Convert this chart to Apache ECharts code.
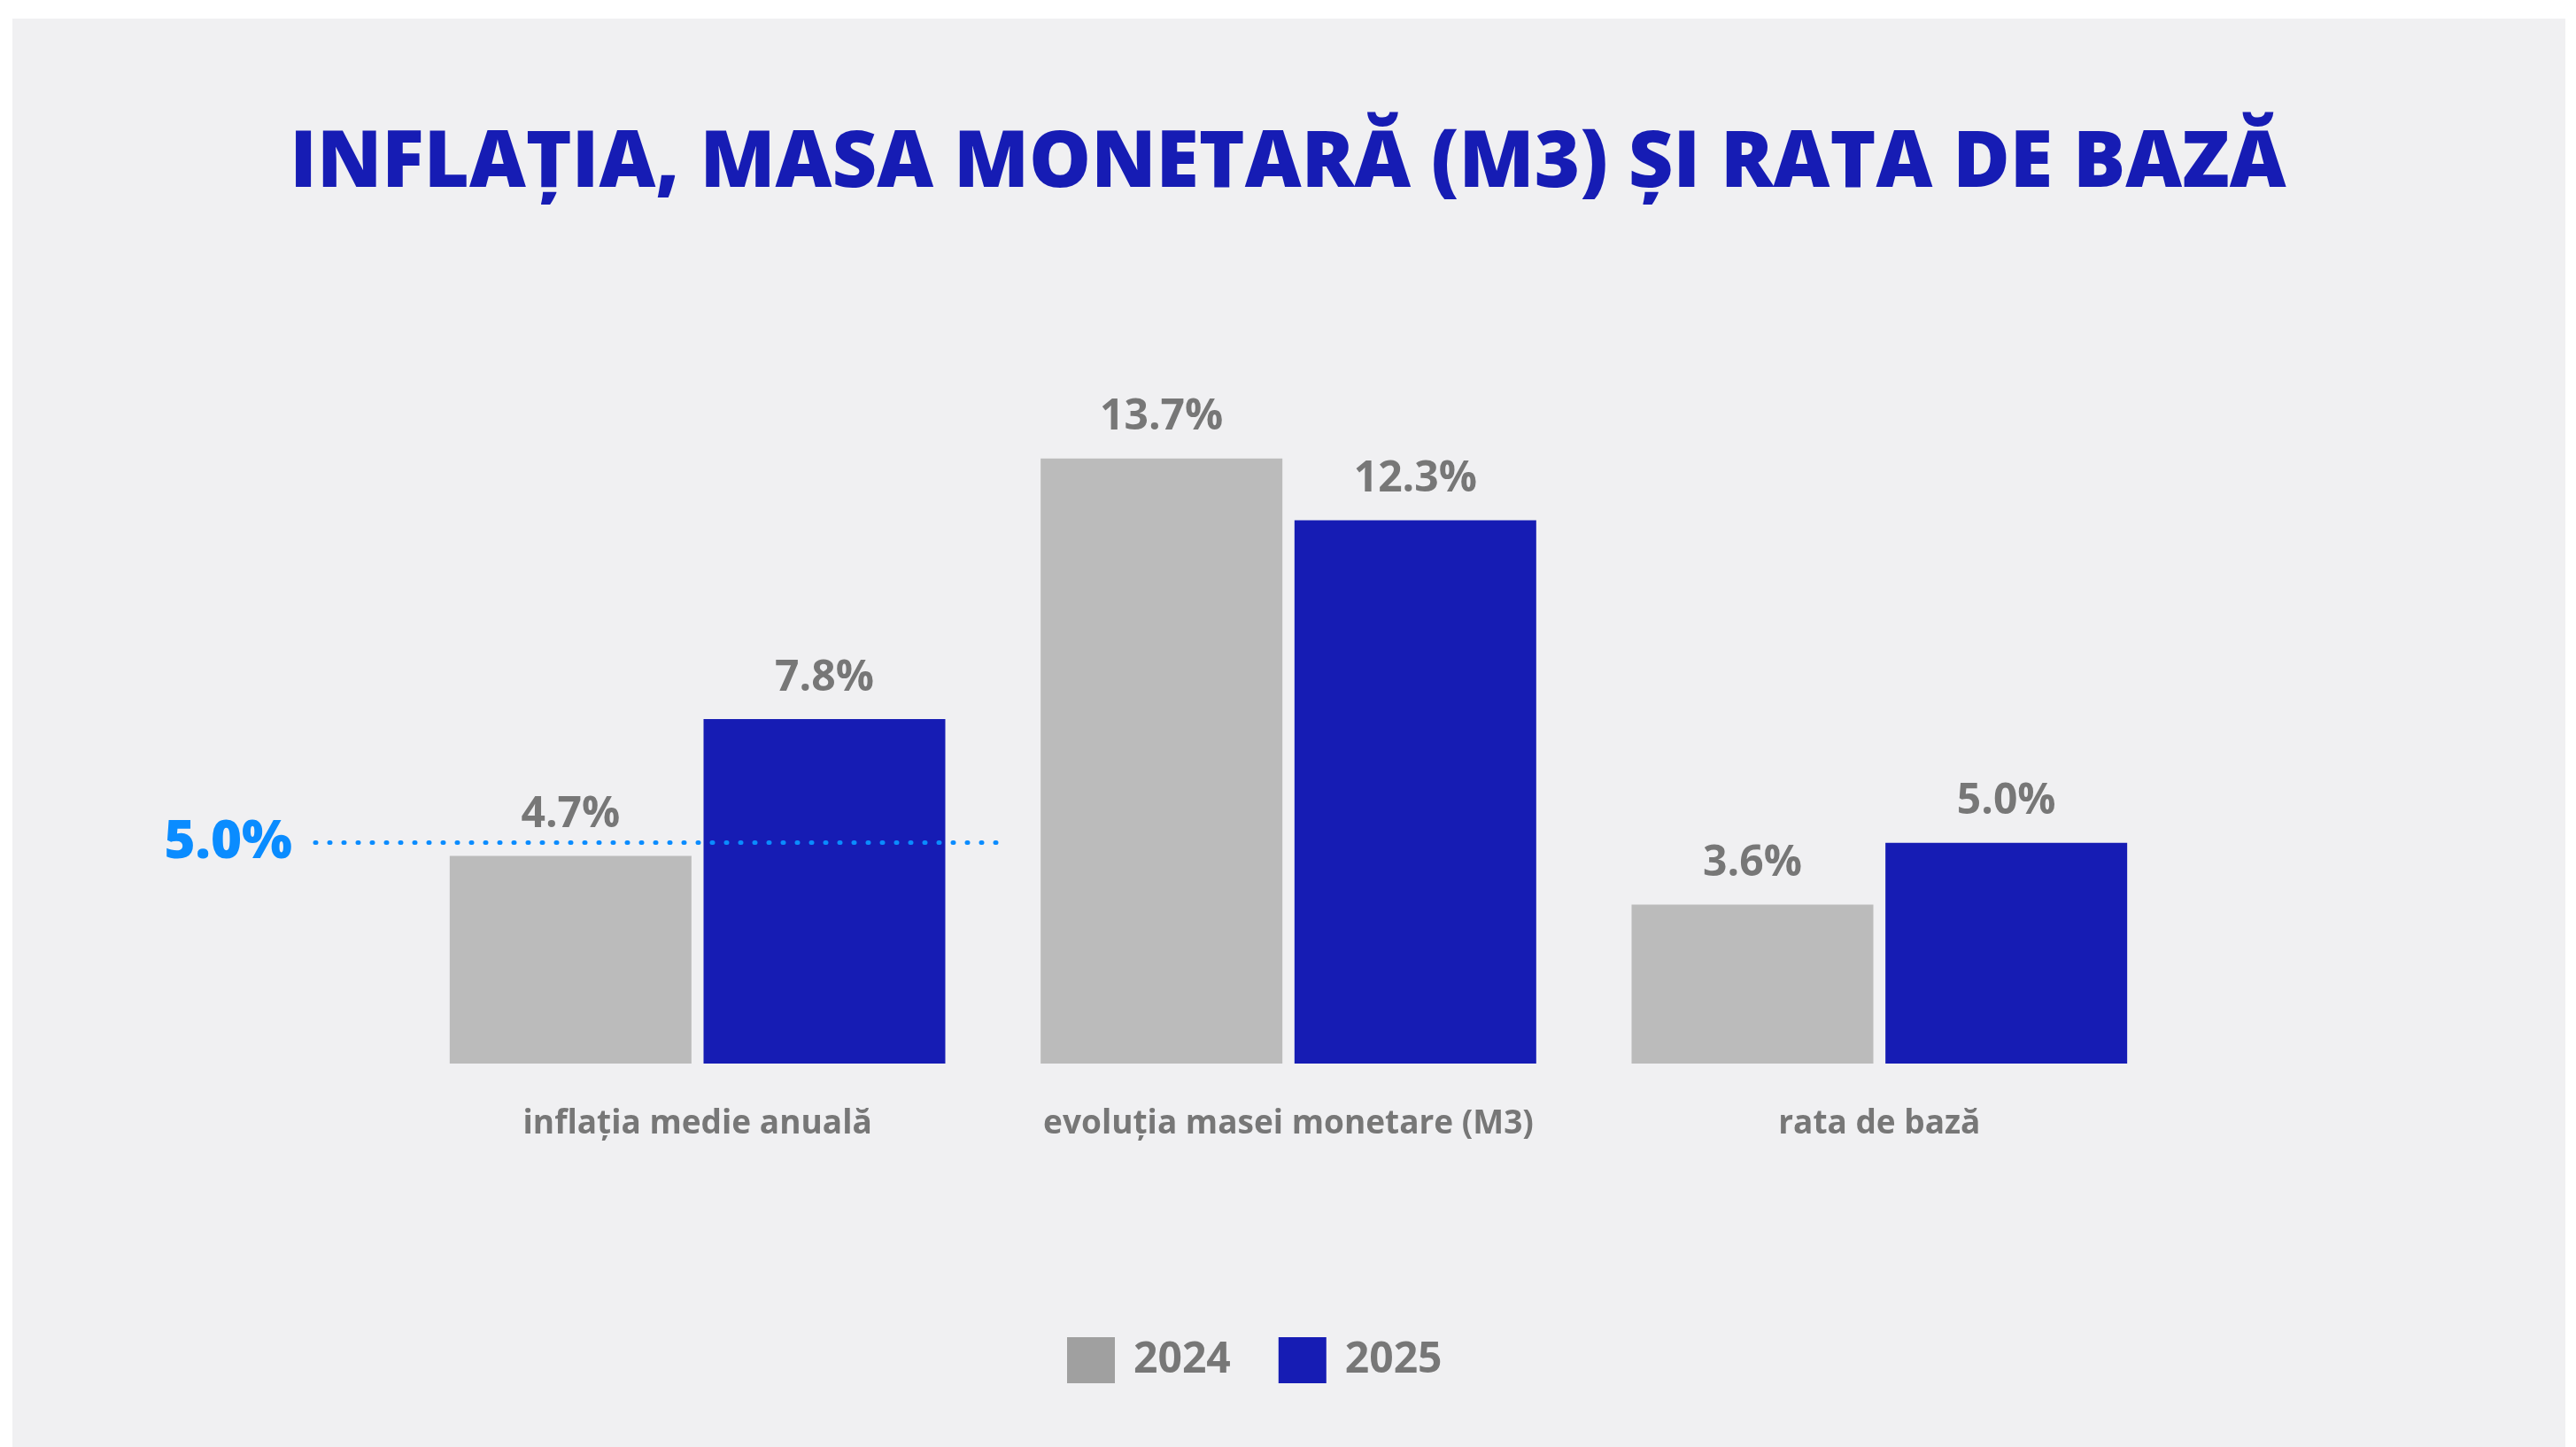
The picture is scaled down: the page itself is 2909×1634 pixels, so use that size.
<!DOCTYPE html>
<html><head><meta charset="utf-8">
<script src="https://cdn.jsdelivr.net/npm/echarts@6/dist/echarts.min.js"></script>
<style>html,body{margin:0;padding:0;background:#ffffff;} #c{width:2909px;height:1634px;}</style>
</head><body><div id="c"></div>
<script>
const titleText = 'INFLAȚIA, MASA MONETARĂ (M3) ȘI RATA DE BAZĂ';
const categories = ['inflația medie anuală', 'evoluția masei monetare (M3)', 'rata de bază'];
const seriesNames = ['2024', '2025'];
const values2024 = [4.7, 13.7, 3.6];
const values2025 = [7.8, 12.3, 5.0];
const targetValue = 5.0;
const targetLabel = '5.0%';

const FONT = '"Open Sans", "Noto Sans", sans-serif';
const BLUE = '#161CB4';
const GRAY = '#BBBBBB';
const TXT = '#777777';
const TARGET = '#0A8CFF';

const chart = echarts.init(document.getElementById('c'), null, {renderer: 'canvas'});
const valueLabel = {
  show: true, position: 'top', distance: 22,
  fontFamily: FONT, fontSize: 48, fontWeight: 'bold', color: TXT,
  formatter: p => p.value.toFixed(1) + '%'
};
chart.setOption({
  backgroundColor: 'transparent',
  animation: false,
  graphic: [{
    type: 'rect', left: 14, top: 21, z: -10,
    shape: {width: 2883, height: 1613},
    style: {fill: '#F0F0F2'}
  }],
  title: {
    text: titleText, left: 'center', top: 137,
    textStyle: {fontFamily: FONT, fontSize: 88, fontWeight: 800, color: BLUE}
  },
  legend: {
    left: 1200, top: 1505, itemWidth: 54, itemHeight: 52, itemGap: 54,
    icon: 'rect',
    textStyle: {fontFamily: FONT, fontSize: 48, fontWeight: 'bold', color: TXT, padding: [0, 0, 0, 16]},
    data: [
      {name: seriesNames[0], itemStyle: {color: '#A0A0A0'}},
      {name: seriesNames[1], itemStyle: {color: BLUE}}
    ]
  },
  grid: {left: 454, right: 453, top: 403, bottom: 433},
  xAxis: {
    type: 'category', data: categories,
    axisLine: {show: false}, axisTick: {show: false},
    axisLabel: {interval: 0, hideOverlap: false, margin: 50, fontFamily: FONT, fontSize: 37, fontWeight: 'bold', color: TXT}
  },
  yAxis: {type: 'value', min: 0, max: 16, show: false, splitLine: {show: false}},
  series: [
    {
      name: seriesNames[0], type: 'bar', data: values2024,
      barWidth: 273, barGap: '5%',
      itemStyle: {color: GRAY}, label: valueLabel,
      emphasis: {disabled: true},
      markLine: {
        silent: true, symbol: 'none', animation: false,
        lineStyle: {color: TARGET, width: 5, type: [1, 15], cap: 'round'},
        label: {
          show: true, position: 'start', distance: 26, formatter: targetLabel,
          fontFamily: FONT, fontSize: 60, fontWeight: 800, color: TARGET
        },
        emphasis: {disabled: true},
        data: [[{x: 356, yAxis: targetValue}, {x: 1130, yAxis: targetValue}]]
      }
    },
    {
      name: seriesNames[1], type: 'bar', data: values2025,
      barWidth: 273,
      itemStyle: {color: BLUE}, label: valueLabel,
      emphasis: {disabled: true}
    }
  ]
});
</script></body></html>
